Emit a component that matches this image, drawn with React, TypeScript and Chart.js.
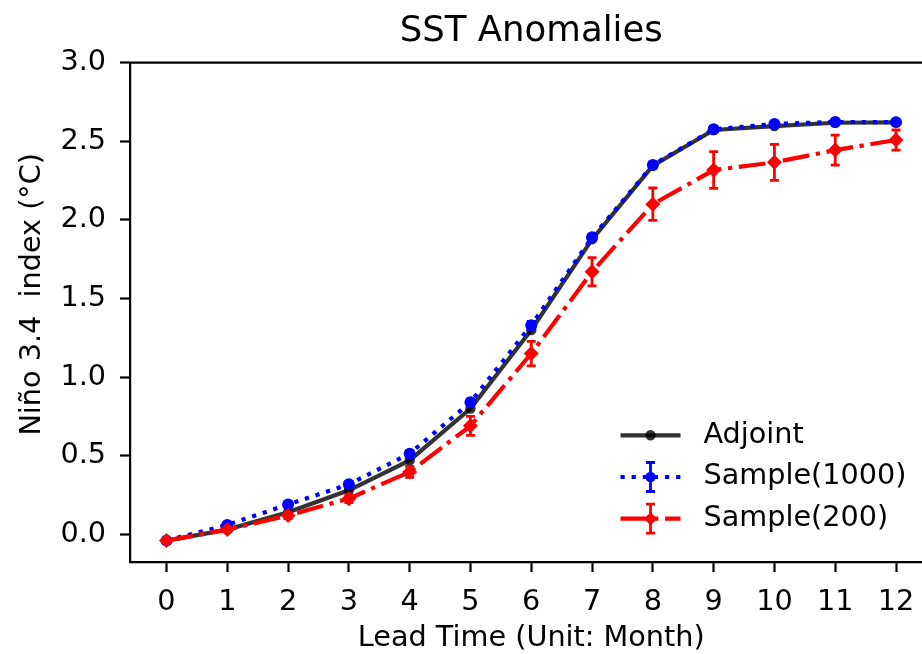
import { useEffect, useRef } from "react";
import { Chart, registerables } from "chart.js";

Chart.register(...registerables);

const FONT = "'DejaVu Sans', 'Liberation Sans', sans-serif";
const FS = 28.7;
const TFS = 35.5;

const leadTimes = [0, 1, 2, 3, 4, 5, 6, 7, 8, 9, 10, 11, 12];
const adjoint = [-0.04, 0.03, 0.14, 0.28, 0.47, 0.8, 1.3, 1.876, 2.345, 2.572, 2.597, 2.618, 2.62];
const sample1000 = [-0.04, 0.06, 0.19, 0.318, 0.513, 0.84, 1.33, 1.889, 2.349, 2.576, 2.61, 2.623, 2.622];
const sample1000Err = [0.005, 0.01, 0.012, 0.015, 0.018, 0.02, 0.025, 0.02, 0.02, 0.015, 0.015, 0.012, 0.01];
const sample200 = [-0.04, 0.03, 0.12, 0.227, 0.397, 0.69, 1.15, 1.67, 2.1, 2.317, 2.366, 2.444, 2.508];
const sample200Err = [0.01, 0.015, 0.02, 0.025, 0.035, 0.06, 0.078, 0.09, 0.103, 0.117, 0.114, 0.095, 0.064];

const titleText = "SST Anomalies";
const xTitle = "Lead Time (Unit: Month)";
const yTitle = "Niño 3.4  index (°C)";
const seriesLabels = ["Adjoint", "Sample(1000)", "Sample(200)"];

const X_MIN = -0.6;
const X_MAX = 12.6;
const Y_MIN = -0.176;
const Y_MAX = 3.0;

const LW = 4.2;
const DOT = [LW, LW * 1.65];
const DASHDOT = [LW * 6.4, LW * 1.6, LW, LW * 1.6];

type Series = {
  label: string;
  values: number[];
  errors: number[] | null;
  color: string;
  dash: number[];
  marker: string;
  radius: number;
  order: number;
};

const series: Series[] = [
  { label: seriesLabels[0], values: adjoint, errors: null, color: "rgba(0,0,0,0.8)", dash: [], marker: "circle", radius: 5.2, order: 3 },
  { label: seriesLabels[1], values: sample1000, errors: sample1000Err, color: "#0000ff", dash: DOT, marker: "circle", radius: 6, order: 2 },
  { label: seriesLabels[2], values: sample200, errors: sample200Err, color: "#ff0000", dash: DASHDOT, marker: "rectRot", radius: 7.5, order: 1 },
];

function drawMarker(ctx: CanvasRenderingContext2D, style: string, x: number, y: number, r: number, color: string) {
  ctx.save();
  ctx.fillStyle = color;
  ctx.beginPath();
  if (style === "rectRot") {
    ctx.moveTo(x, y - r);
    ctx.lineTo(x + r, y);
    ctx.lineTo(x, y + r);
    ctx.lineTo(x - r, y);
    ctx.closePath();
  } else {
    ctx.arc(x, y, r, 0, Math.PI * 2);
  }
  ctx.fill();
  ctx.restore();
}

function drawErrBar(ctx: CanvasRenderingContext2D, x: number, yTop: number, yBot: number, color: string) {
  const cap = 4.5;
  ctx.save();
  ctx.strokeStyle = color;
  ctx.lineWidth = 2.8;
  ctx.setLineDash([]);
  ctx.beginPath();
  ctx.moveTo(x, yTop);
  ctx.lineTo(x, yBot);
  ctx.moveTo(x - cap, yTop);
  ctx.lineTo(x + cap, yTop);
  ctx.moveTo(x - cap, yBot);
  ctx.lineTo(x + cap, yBot);
  ctx.stroke();
  ctx.restore();
}

const decorPlugin = {
  id: "decor",
  beforeDatasetDraw(chart: any, args: any) {
    const s = series[args.index];
    if (!s || !s.errors) return;
    const ctx = chart.ctx as CanvasRenderingContext2D;
    const xs = chart.scales.x;
    const ys = chart.scales.y;
    s.values.forEach((v, i) => {
      const e = s.errors![i];
      const px = xs.getPixelForValue(leadTimes[i]);
      drawErrBar(ctx, px, ys.getPixelForValue(v + e), ys.getPixelForValue(v - e), s.color);
    });
  },
  afterDraw(chart: any) {
    const ctx = chart.ctx as CanvasRenderingContext2D;
    const { left, right, top, bottom } = chart.chartArea;
    ctx.save();
    ctx.strokeStyle = "#000";
    ctx.lineWidth = 2.2;
    ctx.beginPath();
    ctx.moveTo(left - 1.1, top);
    ctx.lineTo(right, top);
    ctx.lineTo(right, bottom);
    ctx.stroke();

    ctx.fillStyle = "#000";
    ctx.font = `normal ${TFS}px ${FONT}`;
    ctx.textAlign = "center";
    ctx.textBaseline = "alphabetic";
    ctx.fillText(titleText, (left + right) / 2, 41);

    ctx.save();
    ctx.font = `normal ${FS}px ${FONT}`;
    ctx.translate(39.5, (top + bottom) / 2 - 18);
    ctx.rotate(-Math.PI / 2);
    ctx.textAlign = "center";
    ctx.textBaseline = "alphabetic";
    ctx.fillText(yTitle, 0, 0);
    ctx.restore();

    const x0 = right - 312;
    const x1 = right - 252;
    const xm = (x0 + x1) / 2;
    const tx = right - 229;
    series.forEach((s, k) => {
      const y = bottom - 126.7 + k * 41.7;
      ctx.save();
      ctx.strokeStyle = s.color;
      ctx.lineWidth = LW;
      ctx.lineCap = "butt";
      ctx.setLineDash(s.dash);
      ctx.beginPath();
      ctx.moveTo(x0, y);
      ctx.lineTo(x1, y);
      ctx.stroke();
      ctx.restore();
      if (s.errors) drawErrBar(ctx, xm, y - 14.5, y + 14.5, s.color);
      drawMarker(ctx, s.marker, xm, y, s.marker === "rectRot" ? 6.5 : 5.2, s.color);
      ctx.fillStyle = "#000";
      ctx.font = `normal ${FS}px ${FONT}`;
      ctx.textAlign = "left";
      ctx.textBaseline = "middle";
      ctx.fillText(s.label, tx, y);
    });
    ctx.restore();
  },
};

export default function App() {
  const ref = useRef<HTMLCanvasElement | null>(null);

  useEffect(() => {
    if (!ref.current) return;
    const chart = new Chart(ref.current, {
      type: "line",
      data: {
        datasets: series.map((s) => ({
          label: s.label,
          data: leadTimes.map((x, i) => ({ x, y: s.values[i] })),
          borderColor: s.color,
          backgroundColor: s.color,
          borderWidth: LW,
          borderDash: s.dash,
          borderCapStyle: "butt",
          pointStyle: s.marker,
          pointRadius: s.radius,
          pointBorderWidth: 0,
          pointBackgroundColor: s.color,
          tension: 0,
          fill: false,
          order: s.order,
        })),
      },
      options: {
        responsive: false,
        animation: false,
        devicePixelRatio: 1,
        layout: { padding: { top: 62.7, right: 5.7, left: 0, bottom: 0 } },
        plugins: {
          legend: { display: false },
          title: { display: false },
          tooltip: { enabled: false },
        },
        scales: {
          x: {
            type: "linear",
            min: X_MIN,
            max: X_MAX,
            afterFit: (scale: any) => {
              scale.height = 92;
            },
            border: { display: true, color: "#000", width: 2.2 },
            grid: { display: true, drawOnChartArea: false, drawTicks: true, tickLength: 10, tickWidth: 2.2, tickColor: "#000" },
            ticks: {
              stepSize: 1,
              includeBounds: false,
              autoSkip: false,
              maxRotation: 0,
              padding: 13,
              color: "#000",
              font: { size: FS, family: FONT },
              callback: (v: any) => String(Math.round(Number(v))),
            },
            title: {
              display: true,
              text: xTitle,
              color: "#000",
              font: { size: FS, family: FONT, lineHeight: 1 },
              padding: { top: 0, bottom: 1 },
            },
          },
          y: {
            type: "linear",
            min: Y_MIN,
            max: Y_MAX,
            afterFit: (scale: any) => {
              scale.width = 130;
            },
            border: { display: true, color: "#000", width: 2.2 },
            grid: { display: true, drawOnChartArea: false, drawTicks: true, tickLength: 10, tickWidth: 2.2, tickColor: "#000" },
            ticks: {
              stepSize: 0.5,
              includeBounds: false,
              padding: 14,
              color: "#000",
              font: { size: FS, family: FONT },
              callback: (v: any) => Number(v).toFixed(1),
            },
          },
        },
      },
      plugins: [decorPlugin],
    } as any);
    return () => chart.destroy();
  }, []);

  return (
    <div style={{ position: "fixed", left: 0, top: 0, width: 922, height: 654, overflow: "hidden", background: "#fff" }}>
      <canvas ref={ref} width={940} height={654} style={{ display: "block" }} />
    </div>
  );
}
